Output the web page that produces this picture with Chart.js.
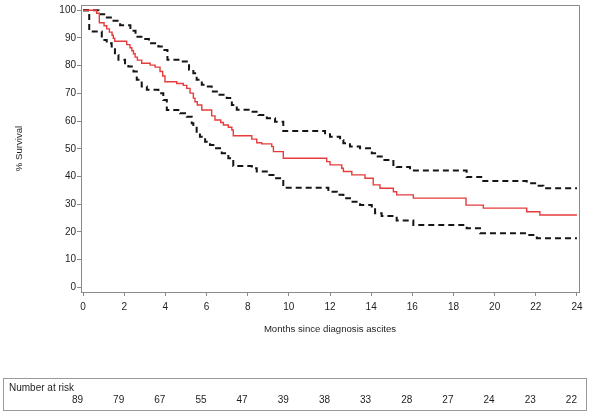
<!DOCTYPE html>
<html>
<head>
<meta charset="utf-8">
<script src="https://cdn.jsdelivr.net/npm/chart.js@4.4.0/dist/chart.umd.min.js"></script>
<style>
  html, body { margin: 0; padding: 0; background: #fff; }
  #km { display: block; }
</style>
</head>
<body>
<canvas id="km" width="590" height="416"></canvas>
<script>
// Kaplan-Meier estimate (red) - month of each step and survival after it
const estMonths = [0, 0.66, 0.79, 1.02, 1.15, 1.28, 1.41, 1.47, 1.54, 2.12, 2.28, 2.37, 2.45, 2.53, 2.64, 2.85,
  3.26, 3.50, 3.74, 3.87, 3.98, 4.55, 4.87, 5.04, 5.20, 5.36, 5.44, 5.55, 5.77, 6.25, 6.41, 6.69, 6.82,
  7.06, 7.23, 7.30, 8.20, 8.44, 8.68, 9.17, 9.25, 9.73, 11.84, 12.0, 12.57, 12.65, 13.06, 13.70, 14.1,
  14.43, 15.08, 15.24, 16.05, 18.61, 19.45, 21.56, 22.2, 24];
const estSurvival = [100, 98.9, 95.5, 94.4, 93.3, 92.1, 91.0, 89.9, 88.8, 87.6, 86.5, 85.4, 84.3, 83.1, 82.0, 80.9,
  80.2, 79.5, 77.9, 76.3, 74.2, 73.6, 72.9, 71.8, 70.1, 68.3, 67.0, 65.8, 64.0, 61.9, 60.4, 59.5, 58.6,
  57.8, 56.8, 54.7, 53.5, 52.2, 51.8, 50.8, 49.0, 46.6, 45.4, 44.2, 43.0, 41.8, 40.6, 39.4, 37.0,
  35.8, 34.5, 33.4, 32.2, 29.7, 28.6, 27.3, 26.1, 26.1];

// upper confidence limit (dashed)
const upperMonths = [0, 0.75, 1.1, 1.4, 1.8, 2.3, 2.55, 2.9, 3.2, 3.66, 3.9, 4.1, 4.75, 5.15, 5.36, 5.52, 5.77,
  6.01, 6.25, 6.50, 6.98, 7.23, 7.47, 8.11, 8.52, 8.93, 9.33, 9.73, 11.76, 12.0, 12.49, 12.65, 12.97,
  13.46, 14.03, 14.27, 14.59, 15.08, 15.24, 15.89, 18.64, 19.45, 21.56, 22.05, 22.37, 24];
const upperSurvival = [100, 98.6, 97.4, 96.2, 94.6, 92.6, 90.4, 89.6, 88.1, 86.9, 85.7, 82.1, 81.5, 78.5, 77.3, 74.9, 73.1,
  72.5, 70.7, 69.5, 68.3, 65.8, 64.1, 63.4, 62.2, 61.0, 59.8, 56.4, 55.6, 54.4, 53.2, 52.0, 50.8,
  50.2, 48.4, 47.2, 46.0, 44.2, 43.4, 42.2, 39.8, 38.4, 37.6, 36.7, 35.8, 35.8];

// lower confidence limit (dashed)
const lowerMonths = [0, 0.3, 0.91, 1.15, 1.39, 1.55, 1.72, 2.04, 2.20, 2.45, 2.61, 2.85, 3.10, 3.66, 3.90, 4.07,
  4.71, 5.04, 5.28, 5.36, 5.52, 5.68, 5.93, 6.17, 6.41, 6.74, 7.06, 7.30, 8.20, 8.44, 9.0, 9.33, 9.73,
  11.92, 12.33, 12.65, 12.97, 13.46, 14.03, 14.19, 14.51, 15.24, 16.05, 18.64, 19.29, 21.56, 22.05, 24];
const lowerSurvival = [100, 92.3, 89.3, 88.1, 86.9, 83.9, 82.1, 80.3, 79.7, 77.9, 74.9, 72.5, 71.3, 70.1, 67.6, 64.0,
  62.8, 61.6, 59.2, 58.6, 56.2, 54.4, 52.6, 51.4, 50.2, 48.4, 46.6, 43.8, 43.0, 41.8, 40.6, 39.4, 36.0,
  34.5, 33.4, 32.2, 30.9, 29.7, 28.6, 26.8, 25.8, 24.1, 22.5, 21.3, 19.5, 18.9, 17.7, 17.7];

const xTicks = [0, 2, 4, 6, 8, 10, 12, 14, 16, 18, 20, 22, 24];
const yTicks = [0, 10, 20, 30, 40, 50, 60, 70, 80, 90, 100];
const riskMonths = [0, 2, 4, 6, 8, 10, 12, 14, 16, 18, 20, 22, 24];
const numberAtRisk = [89, 79, 67, 55, 47, 39, 38, 33, 28, 27, 24, 23, 22];

const FONT = '"Liberation Sans", Arial, Helvetica, sans-serif';
const AXIS_GREY = '#8a8a8a';
const TEXT = '#1e1e1e';

function toPoints(xs, ys) {
  return xs.map((m, i) => ({ x: m, y: ys[i] }));
}

// top/right frame plus the number-at-risk box under the chart
const frameAndRisk = {
  id: 'frameAndRisk',
  afterDraw(chart) {
    const { ctx, chartArea: a, scales } = chart;
    ctx.save();
    ctx.strokeStyle = AXIS_GREY;
    ctx.lineWidth = 1;
    ctx.beginPath();
    ctx.moveTo(Math.round(a.left), Math.round(a.top) + 0.5);
    ctx.lineTo(Math.round(a.right) + 0.5, Math.round(a.top) + 0.5);
    ctx.lineTo(Math.round(a.right) + 0.5, Math.round(a.bottom));
    ctx.stroke();

    ctx.strokeStyle = '#9a9a9a';
    ctx.strokeRect(3.5, 378.5, 583, 32);
    ctx.fillStyle = TEXT;
    ctx.font = '10px ' + FONT;
    ctx.textBaseline = 'middle';
    ctx.textAlign = 'left';
    ctx.fillText('Number at risk', 9, 388);
    ctx.textAlign = 'right';
    riskMonths.forEach((m, i) => {
      ctx.fillText(String(numberAtRisk[i]), scales.x.getPixelForValue(m), 400);
    });
    ctx.restore();
  }
};

const ctx = document.getElementById('km').getContext('2d');
new Chart(ctx, {
  type: 'line',
  data: {
    datasets: [
      {
        data: toPoints(estMonths, estSurvival),
        borderColor: '#e63c3c',
        borderWidth: 1.4,
        stepped: 'before',
        pointRadius: 0,
        fill: false
      },
      {
        data: toPoints(upperMonths, upperSurvival),
        borderColor: '#151515',
        borderWidth: 2,
        borderDash: [6, 4],
        stepped: 'before',
        pointRadius: 0,
        fill: false
      },
      {
        data: toPoints(lowerMonths, lowerSurvival),
        borderColor: '#151515',
        borderWidth: 2,
        borderDash: [6, 4],
        stepped: 'before',
        pointRadius: 0,
        fill: false
      }
    ]
  },
  options: {
    responsive: false,
    animation: false,
    layout: { padding: { top: 5, right: 11, bottom: 76, left: 0 } },
    plugins: {
      legend: { display: false },
      tooltip: { enabled: false }
    },
    scales: {
      x: {
        type: 'linear',
        min: -0.1,
        max: 24.1,
        afterBuildTicks: (axis) => { axis.ticks = xTicks.map(v => ({ value: v })); },
        afterFit: (axis) => {
          axis.height = 48;
          axis.paddingLeft = 0;
          axis.paddingRight = 0;
        },
        grid: { drawOnChartArea: false, drawTicks: true, tickLength: 4, color: AXIS_GREY, tickColor: AXIS_GREY },
        border: { display: true, color: AXIS_GREY, width: 1 },
        ticks: { color: TEXT, font: { family: FONT, size: 10 }, padding: 5, maxRotation: 0, autoSkip: false },
        title: {
          display: true,
          text: 'Months since diagnosis ascites',
          color: TEXT,
          font: { family: FONT, size: 9.6 },
          padding: { top: 0, bottom: 5 }
        }
      },
      y: {
        type: 'linear',
        min: -1.66,
        max: 101.9,
        afterBuildTicks: (axis) => { axis.ticks = yTicks.map(v => ({ value: v })); },
        afterFit: (axis) => {
          axis.width = 81;
          axis.paddingTop = 0;
          axis.paddingBottom = 0;
        },
        grid: { drawOnChartArea: false, drawTicks: true, tickLength: 4, color: AXIS_GREY, tickColor: AXIS_GREY },
        border: { display: true, color: AXIS_GREY, width: 1 },
        ticks: { color: TEXT, font: { family: FONT, size: 10 }, padding: 1, autoSkip: false },
        title: {
          display: true,
          text: '% Survival',
          color: TEXT,
          font: { family: FONT, size: 9.6 },
          padding: { top: 14, bottom: 0 }
        }
      }
    }
  },
  plugins: [frameAndRisk]
});
</script>
</body>
</html>
